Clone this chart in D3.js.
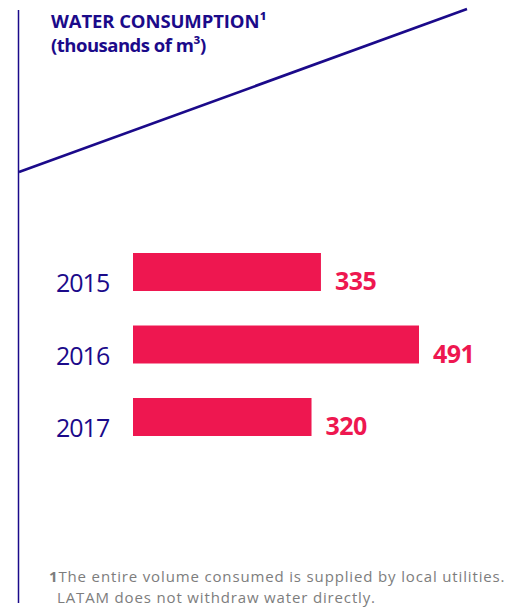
<!DOCTYPE html>
<html><head><meta charset="utf-8">
<script src="https://cdn.jsdelivr.net/npm/d3@7"></script>
<style>body{margin:0;background:#fff}svg{display:block}</style>
</head><body>
<script>
const years = ["2015","2016","2017"];
const values = [335, 491, 320];
const titleLines = ["WATER CONSUMPTION¹", "(thousands of m³)"];
const footnoteLines = ["The entire volume consumed is supplied by local utilities.", "LATAM does not withdraw water directly."];

const W = 513, H = 610;
const navy = "#1b0a8a", pink = "#ee1750", gray = "#7d7d7d";
const svg = d3.select("body").append("svg").attr("width", W).attr("height", H);

// frame lines
svg.append("line").attr("x1",18.5).attr("x2",18.5).attr("y1",10).attr("y2",603)
  .attr("stroke",navy).attr("stroke-width",1.5);
svg.append("line").attr("x1",19).attr("y1",172).attr("x2",467).attr("y2",9)
  .attr("stroke",navy).attr("stroke-width",2.6);

// title
const font = "'Open Sans', sans-serif";
svg.selectAll("text.title").data(titleLines).join("text").attr("class","title")
  .attr("x",51).attr("y",(d,i)=>28+i*24).attr("fill",navy)
  .attr("font-family",font).attr("font-weight",700).attr("font-size",18.5)
  .attr("letter-spacing",(d,i)=>i?-0.5:-0.1).text(d=>d);

// scales
const y = d3.scaleBand().domain(years).range([253, 436]).paddingInner(0.476).paddingOuter(0);
const x = d3.scaleLinear().domain([36, 491]).range([133, 419]);
const data = years.map((yr,i)=>({year:yr, value:values[i]}));

svg.selectAll("rect.bar").data(data).join("rect").attr("class","bar")
  .attr("x", x.range()[0]).attr("y", d=>y(d.year))
  .attr("width", d=>x(d.value)-x.range()[0]).attr("height", y.bandwidth())
  .attr("fill", pink);

svg.selectAll("text.val").data(data).join("text").attr("class","val")
  .attr("x", d=>x(d.value)+14).attr("y", d=>y(d.year)+37)
  .attr("fill", pink).attr("font-family",font).attr("font-weight",700)
  .attr("font-size",25).attr("letter-spacing",-0.5).text(d=>d.value);

svg.selectAll("text.yr").data(data).join("text").attr("class","yr")
  .attr("x", 56).attr("y", d=>y(d.year)+39)
  .attr("fill", navy).attr("font-family",font).attr("font-weight",400)
  .attr("font-size",25).attr("letter-spacing",-1.0).text(d=>d.year);

// footnote
const f1 = svg.append("text").attr("x",49).attr("y",582).attr("fill",gray)
  .attr("font-family",font).attr("font-size",15).attr("letter-spacing",0.85);
f1.append("tspan").attr("font-weight",700).text("1");
f1.append("tspan").text(footnoteLines[0]);
svg.append("text").attr("x",57).attr("y",603).attr("fill",gray)
  .attr("font-family",font).attr("font-size",15).attr("letter-spacing",0.85)
  .text(footnoteLines[1]);
</script>
</body></html>
